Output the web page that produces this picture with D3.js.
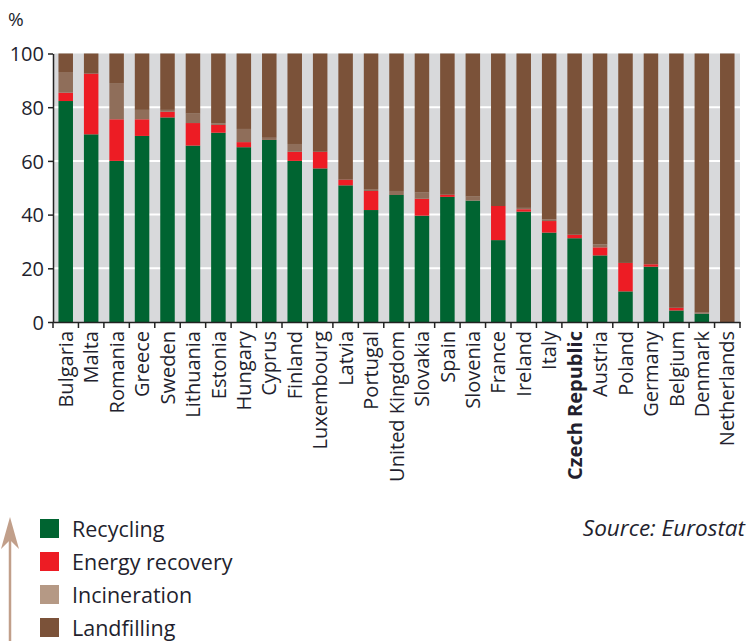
<!DOCTYPE html>
<html>
<head>
<meta charset="utf-8">
<script src="https://cdn.jsdelivr.net/npm/d3@7"></script>
<style>
  body { margin: 0; background: #fff; }
  text { font-family: "Open Sans", "DejaVu Sans", sans-serif; fill: #231f2e; }
</style>
</head>
<body>
<div id="chart"></div>
<script>
"use strict";

// == DATA ==
var countries = ["Bulgaria", "Malta", "Romania", "Greece", "Sweden", "Lithuania", "Estonia",
  "Hungary", "Cyprus", "Finland", "Luxembourg", "Latvia", "Portugal", "United Kingdom",
  "Slovakia", "Spain", "Slovenia", "France", "Ireland", "Italy", "Czech Republic",
  "Austria", "Poland", "Germany", "Belgium", "Denmark", "Netherlands"];

var recycling      = [82.3, 69.9, 60.0, 69.3, 76.2, 65.7, 70.5, 65.1, 67.8, 60.0, 57.2, 50.9, 41.7, 47.3,
                      39.6, 46.6, 45.2, 30.5, 41.1, 33.3, 31.2, 24.8, 11.4, 20.6, 4.3, 3.1, 0];
var energyRecovery = [3.1, 22.6, 15.5, 6.2, 2.1, 8.4, 2.9, 1.9, 0, 3.4, 6.2, 2.1, 7.1, 0,
                      6.3, 0.8, 0, 12.7, 0.9, 4.3, 1.3, 3.0, 10.6, 0.9, 1.0, 0, 0];
var incineration   = [7.7, 0, 13.5, 3.5, 0.7, 3.5, 0.6, 4.9, 0.8, 2.9, 0, 0, 0.7, 1.5,
                      2.3, 0, 1.5, 0, 0.5, 0.6, 0, 1.1, 0, 0, 0, 0.4, 0];
var landfilling = countries.map(function (c, i) {
  return 100 - recycling[i] - energyRecovery[i] - incineration[i];
});

var seriesNames = ["Recycling", "Energy recovery", "Incineration", "Landfilling"];
var barColors = ["#006431", "#ed1c24", "#8f6e5a", "#7b5239"];
var legendColors = ["#006431", "#ed1c24", "#b59985", "#7b5239"];
var yTicks = [0, 20, 40, 60, 80, 100];

// == BOILERPLATE ==
var W = 747, H = 641;
var margin = { top: 53.5, left: 53, right: 7, bottom: 319 };
var width = W - margin.left - margin.right,
    height = H - margin.top - margin.bottom;

var svg = d3.select("#chart").append("svg")
  .attr("width", W).attr("height", H);

var g = svg.append("g")
  .attr("transform", "translate(" + margin.left + "," + margin.top + ")");

var x = d3.scaleBand().domain(countries).range([0, width]).paddingInner(0.43).paddingOuter(0.215);
var y = d3.scaleLinear().domain([0, 100]).range([height, 0]);

// table for the stack
var table = countries.map(function (c, i) {
  return { country: c, "Recycling": recycling[i], "Energy recovery": energyRecovery[i],
           "Incineration": incineration[i], "Landfilling": landfilling[i] };
});
var stacked = d3.stack().keys(seriesNames)(table);

// background + grid
g.append("rect").attr("width", width).attr("height", height).attr("fill", "#d8d9db");
g.selectAll(".grid").data(yTicks.filter(function (t) { return t > 0 && t < 100; }))
  .enter().append("line")
  .attr("x1", 0).attr("x2", width)
  .attr("y1", function (d) { return y(d); }).attr("y2", function (d) { return y(d); })
  .attr("stroke", "#fff").attr("stroke-width", 2);

// bars
g.selectAll(".layer").data(stacked).enter().append("g")
  .attr("fill", function (d, i) { return barColors[i]; })
  .selectAll("rect").data(function (d) { return d; })
  .enter().append("rect")
  .attr("x", function (d) { return x(d.data.country); })
  .attr("width", x.bandwidth())
  .attr("y", function (d) { return y(d[1]); })
  .attr("height", function (d) { return Math.max(0, y(d[0]) - y(d[1])); });

// axes
var yAxis = g.append("g").call(d3.axisLeft(y).tickValues(yTicks).tickSize(5).tickSizeOuter(0));
yAxis.select(".domain").attr("stroke", "#222").attr("stroke-width", 1.5);
yAxis.selectAll(".tick line").attr("stroke", "#222").attr("stroke-width", 1.5);
yAxis.selectAll(".tick text").attr("font-size", 20).attr("x", -9).attr("dy", "0.36em");

var xAxis = g.append("g").attr("transform", "translate(0," + height + ")")
  .call(d3.axisBottom(x).tickSize(0).tickSizeOuter(0));
xAxis.select(".domain").attr("stroke", "#222").attr("stroke-width", 1.5);
xAxis.selectAll(".tick text")
  .attr("font-size", 20)
  .attr("transform", "rotate(-90)")
  .attr("text-anchor", "end")
  .attr("x", -9).attr("y", 0).attr("dy", "0.36em")
  .attr("font-weight", function (d) { return d === "Czech Republic" ? "bold" : "normal"; });

// ticks between the bands
var step = x.step();
xAxis.selectAll(".sep").data(d3.range(countries.length + 1))
  .enter().append("line")
  .attr("x1", function (i) { return i * step; }).attr("x2", function (i) { return i * step; })
  .attr("y1", 0).attr("y2", 6)
  .attr("stroke", "#222").attr("stroke-width", 1.5);

// unit
svg.append("text").attr("x", 8).attr("y", 26).attr("font-size", 19).text("%");

// legend
var legend = svg.append("g").attr("transform", "translate(40,519)");
seriesNames.forEach(function (s, i) {
  var row = legend.append("g").attr("transform", "translate(0," + (i * 33) + ")");
  row.append("rect").attr("width", 19).attr("height", 19).attr("fill", legendColors[i]);
  row.append("text").attr("x", 32).attr("y", 10).attr("dy", "0.36em")
    .attr("font-size", 21.5).text(s);
});

// arrow
svg.append("line").attr("x1", 10).attr("x2", 10).attr("y1", 530).attr("y2", 641)
  .attr("stroke", "#c19f8a").attr("stroke-width", 2.5);
svg.append("path").attr("d", "M10,517 L19,549 L10,540 L1,549 Z").attr("fill", "#c19f8a");

// source
svg.append("text").attr("x", 745).attr("y", 528).attr("dy", "0.36em")
  .attr("text-anchor", "end").attr("font-size", 22.5).attr("font-style", "italic")
  .text("Source: Eurostat");
</script>
</body>
</html>
